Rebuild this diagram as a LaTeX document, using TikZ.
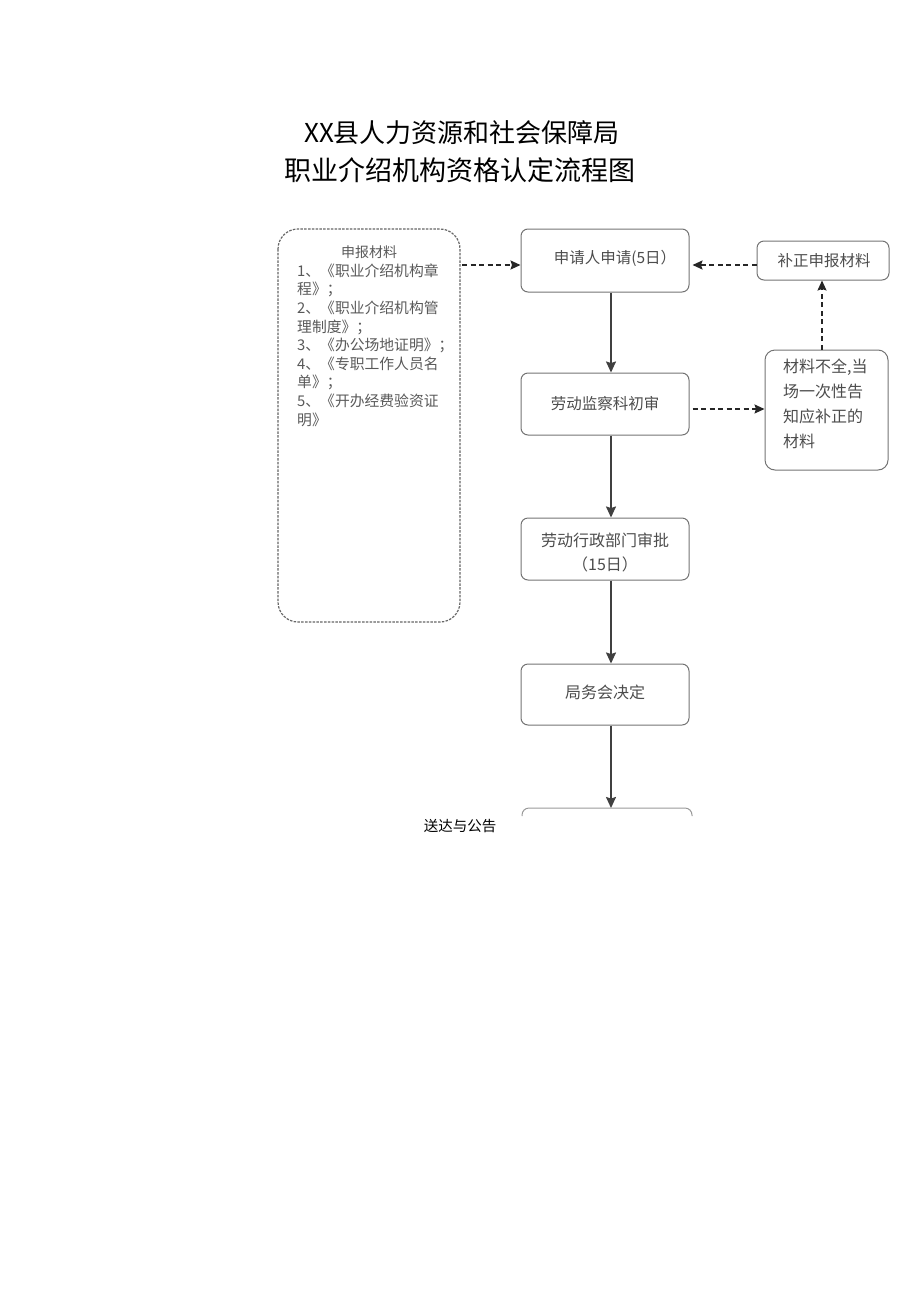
\documentclass[tikz,border=0pt]{standalone}
\usepackage{fontspec}
\setmainfont{Noto Sans CJK SC}
\newfontfamily\cjk{Noto Sans CJK SC}
\usetikzlibrary{arrows.meta}
\begin{document}
\begin{tikzpicture}[x=1pt,y=-1pt,
  flowbox/.style={draw=black!55, line width=1pt, rounded corners=7pt, inner sep=0pt, text=black!70},
  dbox/.style={draw=black!60, line width=1.2pt, dash pattern=on 2.5pt off 1.3pt, rounded corners=20pt, inner sep=0pt},
  solidarrow/.style={draw=black!75, line width=1.6pt, -{Stealth[length=11pt,width=10pt,inset=1.5pt]}},
  dasharrow/.style={draw=black!85, line width=1.5pt, dash pattern=on 5pt off 3.5pt, -{Stealth[length=10pt,width=9pt,inset=1.5pt]}},
  boxtext/.style={font=\cjk\fontsize{15.5}{18}\selectfont, text=black!70}
]
\useasboundingbox (0,0) rectangle (920,1301);
% title
\node[font=\cjk\fontsize{26}{30}\selectfont] (t1) at (462,133) {XX县人力资源和社会保障局};
\node[font=\cjk\fontsize{27}{31}\selectfont] (t2) at (460,170) {职业介绍机构资格认定流程图};
% left material box
\draw[dbox] (278,229) rectangle (460,622);
\node[font=\cjk\fontsize{14}{18}\selectfont, text=black!65] (mhead) at (369,252) {申报材料};
\node[font=\cjk\fontsize{14.8}{18.6}\selectfont, text=black!65, anchor=north west, align=left, inner sep=0pt] (mlist) at (297,263.5)
{1、《职业介绍机构章\\程》；\\2、《职业介绍机构管\\理制度》；\\3、《办公场地证明》；\\4、《专职工作人员名\\单》；\\5、《开办经费验资证\\明》};
\node (lbox) at (369,425) [minimum width=182pt, minimum height=393pt] {};
% main flow boxes
\node[flowbox, minimum width=168pt, minimum height=63pt] (b1) at (605,260.5) {};
\node[boxtext] (b1t) at (615,258) {申请人申请(5日）};
\node[flowbox, minimum width=168pt, minimum height=62pt] (b2) at (605,404) {};
\node[boxtext] (b2t) at (605,404) {劳动监察科初审};
\node[flowbox, minimum width=168pt, minimum height=62pt] (b3) at (605,549) {};
\node[boxtext, align=center, font=\cjk\fontsize{16}{24}\selectfont] (b3t) at (605,552) {劳动行政部门审批\\（15日）};
\node[flowbox, minimum width=168pt, minimum height=61pt] (b4) at (605,694.5) {};
\node[boxtext, font=\cjk\fontsize{16}{18}\selectfont] (b4t) at (605,692) {局务会决定};
% partial last box
\draw[draw=black!40, line width=1pt, rounded corners=7pt] (522,816) -- (522,808) -- (692,808) -- (692,816);
\coordinate (b5top) at (611,808);
\node[font=\cjk\fontsize{14.5}{18}\selectfont] (b5t) at (460,826) {送达与公告};
% right boxes
\node[flowbox, minimum width=132pt, minimum height=39pt] (r1) at (823,260.5) {};
\node[boxtext, font=\cjk\fontsize{15.5}{18}\selectfont] (r1t) at (824,261) {补正申报材料};
\node[flowbox, rounded corners=10pt, minimum width=123pt, minimum height=120pt] (r2) at (826.5,410) {};
\node[font=\cjk\fontsize{16}{25}\selectfont, text=black!70, align=left, anchor=north west, inner sep=0pt] (r2t) at (783,359)
{材料不全,当\\场一次性告\\知应补正的\\材料};
% connectors
\draw[dasharrow] (lbox.east |- 0,265) ++(2,0) -- (b1.west |- 0,265);
\draw[solidarrow] (b1.south -| 611,0) -- (b2.north -| 611,0);
\draw[solidarrow] (b2.south -| 611,0) -- (b3.north -| 611,0);
\draw[solidarrow] (b3.south -| 611,0) -- (b4.north -| 611,0);
\draw[solidarrow] (b4.south -| 611,0) -- (b5top);
\draw[dasharrow] (b2.east |- 0,409) ++(3,0) -- (r2.west |- 0,409);
\draw[dasharrow] (r2.north -| 822,0) -- (r1.south -| 822,0);
\draw[dasharrow] (r1.west |- 0,265) -- ([xshift=3pt]b1.east |- 0,265);
\end{tikzpicture}
\end{document}
